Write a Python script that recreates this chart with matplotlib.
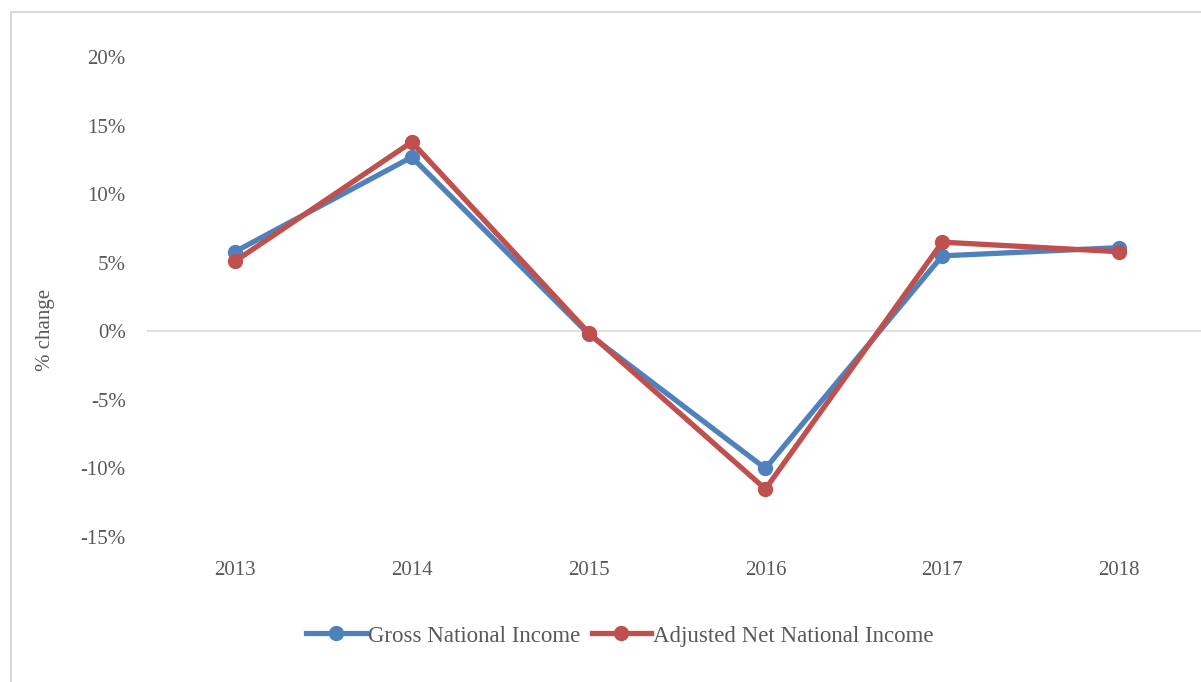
import matplotlib.pyplot as plt
from matplotlib.patches import Rectangle
from matplotlib.ticker import FuncFormatter

# data
years = ['2013', '2014', '2015', '2016', '2017', '2018']
gni = [5.8, 12.7, -0.2, -10.0, 5.5, 6.1]
anni = [5.1, 13.8, -0.1, -11.5, 6.5, 5.8]

plt.rcParams['font.family'] = ['Liberation Serif', 'DejaVu Serif']
grey = '#595959'

fig = plt.figure(figsize=(12.01, 6.82), dpi=100)
W, H = 1201, 682

# chart frame (cropped at right and bottom)
fig.patches.append(Rectangle((11 / W, -0.1), 1.2, 1 - 12 / H + 0.1,
                             transform=fig.transFigure, fill=False,
                             edgecolor='#d9d9d9', linewidth=1.5))

ax = fig.add_axes([146.5 / W, 1 - 537 / H, 1061 / W, (537 - 57) / H])
x = range(len(years))
ax.plot(x, gni, color='#4f81bd', linewidth=3.8, marker='o', markersize=10,
        label='Gross National Income', solid_joinstyle='round')
ax.plot(x, anni, color='#c0504d', linewidth=3.8, marker='o', markersize=10,
        label='Adjusted Net National Income', solid_joinstyle='round')

ax.set_xlim(-0.5, len(years) - 0.5)
ax.set_ylim(-15, 20)
ax.set_yticks(range(-15, 21, 5))
ax.yaxis.set_major_formatter(FuncFormatter(lambda v, p: f'{v:.0f}%'))
ax.set_xticks(list(x))
ax.set_xticklabels(years)
ax.axhline(0, color='#d9d9d9', linewidth=1.2, zorder=0)
for s in ax.spines.values():
    s.set_visible(False)
ax.tick_params(length=0, colors=grey, labelsize=15)
ax.tick_params(axis='y', pad=15)
ax.tick_params(axis='x', pad=17)
ax.set_ylabel('% change', color=grey, fontsize=15)
ax.yaxis.set_label_coords(-0.086, 0.431)

leg = fig.legend(loc='center', bbox_to_anchor=(620 / W, 1 - 636 / H), ncol=2,
                 frameon=False, fontsize=16.5, handlelength=2.6,
                 handletextpad=0.1, columnspacing=0.5)
for t in leg.get_texts():
    t.set_color(grey)

fig.savefig('out.png', dpi=100)
